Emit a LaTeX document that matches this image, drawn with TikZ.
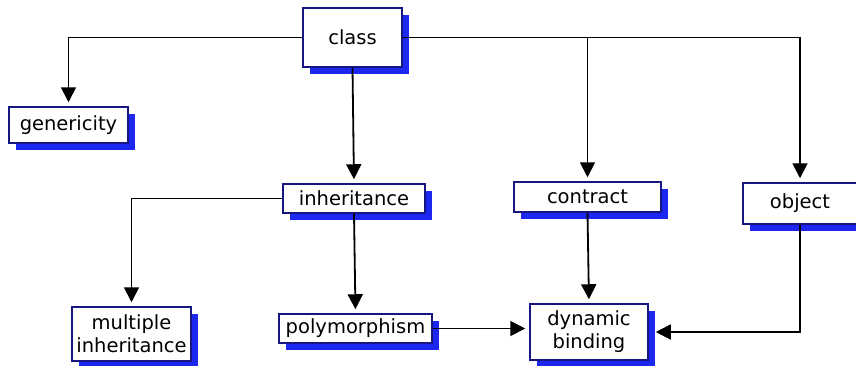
\documentclass[tikz,border=0pt]{standalone}
\usepackage{fontspec}
\setmainfont{DejaVu Sans}
\usetikzlibrary{shadows,arrows.meta}
\definecolor{boxline}{RGB}{22,22,128}
\definecolor{shadowblue}{RGB}{28,40,240}
\begin{document}
\begin{tikzpicture}[x=1pt,y=-1pt,
  concept/.style={draw=boxline, line width=1.5pt, fill=white, inner sep=0pt,
    align=center, font=\fontsize{19.5}{23}\selectfont,
    drop shadow={shadow xshift=6.5pt, shadow yshift=-6.5pt, fill=shadowblue, opacity=1}},
  link/.style={draw=black, line width=1.8pt},
  arr/.style={link, -{Triangle[width=15pt,length=15pt]}, shorten >=4pt}
]
\useasboundingbox (0,0) rectangle (856,365);
\clip (0,0) rectangle (856,365);

% concept boxes
\node[concept, minimum width=99pt, minimum height=59pt]  (cls) at (352.5,37.5) {class};
\node[concept, minimum width=119pt, minimum height=36pt] (gen) at (68.5,125)   {genericity};
\node[concept, minimum width=142pt, minimum height=29pt] (inh) at (354,198.5)  {inheritance};
\node[concept, minimum width=147pt, minimum height=30pt] (con) at (587.5,197)  {contract};
\node[concept, minimum width=114pt, minimum height=41pt] (obj) at (800,203.5)  {object};
\node[concept, minimum width=119pt, minimum height=54pt] (mul) at (131.5,334)  {multiple\\inheritance};
\node[concept, minimum width=153pt, minimum height=29pt] (pol) at (355.5,328.5) {polymorphism};
\node[concept, minimum width=118pt, minimum height=56pt] (dyn) at (589,332)    {dynamic\\binding};

% connectors
\draw[arr] (cls.west) -| (gen.north);
\draw[arr] (cls.south) -- (inh.north);
\draw[arr] (cls.east) -| (obj.north);
\draw[arr] (cls.east -| con.north) -- (con.north);
\draw[arr] (inh.west) -| (mul.north);
\draw[arr] (inh.south) -- (pol.north);
\draw[arr] (pol.east) -- (pol.east -| dyn.west);
\draw[arr] (con.south) -- (dyn.north);
\draw[link, -{Triangle[width=15pt,length=15pt]}] (obj.south) |- ([xshift=7pt]dyn.east);
\end{tikzpicture}
\end{document}
